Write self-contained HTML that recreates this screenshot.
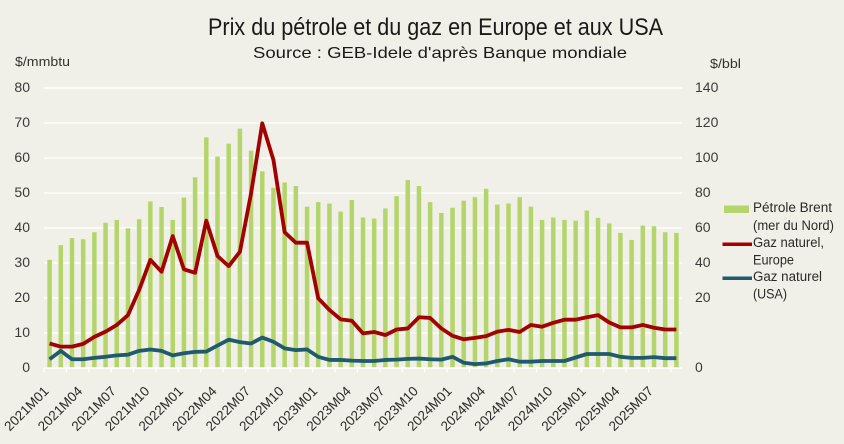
<!DOCTYPE html>
<html>
<head>
<meta charset="utf-8">
<style>
html,body{margin:0;padding:0;background:#f0f0e9;}
svg{display:block;}
text{font-family:"Liberation Sans",sans-serif;}
</style>
</head>
<body>
<svg width="844" height="444" viewBox="0 0 844 444" xmlns="http://www.w3.org/2000/svg">
<rect x="0" y="0" width="844" height="444" fill="#f0f0e9"/>

<!-- Titles -->
<text x="208" y="35" font-size="24" fill="#1a1a1a" textLength="455" lengthAdjust="spacingAndGlyphs">Prix du pétrole et du gaz en Europe et aux USA</text>
<text x="253" y="58" font-size="16" fill="#1a1a1a" textLength="374" lengthAdjust="spacingAndGlyphs">Source : GEB-Idele d'après Banque mondiale</text>
<text x="15" y="66" font-size="13" fill="#333" textLength="55" lengthAdjust="spacingAndGlyphs">$/mmbtu</text>
<text x="710" y="68" font-size="13" fill="#333" textLength="31" lengthAdjust="spacingAndGlyphs">$/bbl</text>

<!-- Gridlines -->
<g stroke="#ffffff" stroke-width="1.2">
<line x1="44" y1="88" x2="682" y2="88"/>
<line x1="44" y1="123" x2="682" y2="123"/>
<line x1="44" y1="158" x2="682" y2="158"/>
<line x1="44" y1="193" x2="682" y2="193"/>
<line x1="44" y1="228" x2="682" y2="228"/>
<line x1="44" y1="263" x2="682" y2="263"/>
<line x1="44" y1="298" x2="682" y2="298"/>
<line x1="44" y1="333" x2="682" y2="333"/>
</g>

<!-- Left axis labels -->
<g font-size="14" fill="#3a3a3a" text-anchor="end">
<text x="30" y="92">80</text>
<text x="30" y="127">70</text>
<text x="30" y="162">60</text>
<text x="30" y="197">50</text>
<text x="30" y="232">40</text>
<text x="30" y="267">30</text>
<text x="30" y="302">20</text>
<text x="30" y="337">10</text>
<text x="30" y="372">0</text>
</g>
<!-- Right axis labels -->
<g font-size="14" fill="#3a3a3a">
<text x="695" y="92">140</text>
<text x="695" y="127">120</text>
<text x="695" y="162">100</text>
<text x="695" y="197">80</text>
<text x="695" y="232">60</text>
<text x="695" y="267">40</text>
<text x="695" y="302">20</text>
<text x="695" y="372">0</text>
</g>

<!-- Plot data in unit coords -->
<g transform="translate(44,368) scale(11.193,-3.5)">
<g fill="#b4d56b">
<rect x="0.299" y="0" width="0.402" height="30.9"/>
<rect x="1.299" y="0" width="0.402" height="35.1"/>
<rect x="2.299" y="0" width="0.402" height="37.1"/>
<rect x="3.299" y="0" width="0.402" height="36.8"/>
<rect x="4.299" y="0" width="0.402" height="38.8"/>
<rect x="5.299" y="0" width="0.402" height="41.5"/>
<rect x="6.299" y="0" width="0.402" height="42.3"/>
<rect x="7.299" y="0" width="0.402" height="39.9"/>
<rect x="8.299" y="0" width="0.402" height="42.5"/>
<rect x="9.299" y="0" width="0.402" height="47.6"/>
<rect x="10.299" y="0" width="0.402" height="46.0"/>
<rect x="11.299" y="0" width="0.402" height="42.3"/>
<rect x="12.299" y="0" width="0.402" height="48.7"/>
<rect x="13.299" y="0" width="0.402" height="54.5"/>
<rect x="14.299" y="0" width="0.402" height="65.9"/>
<rect x="15.299" y="0" width="0.402" height="60.4"/>
<rect x="16.299" y="0" width="0.402" height="64.1"/>
<rect x="17.299" y="0" width="0.402" height="68.4"/>
<rect x="18.299" y="0" width="0.402" height="62.1"/>
<rect x="19.299" y="0" width="0.402" height="56.2"/>
<rect x="20.299" y="0" width="0.402" height="51.5"/>
<rect x="21.299" y="0" width="0.402" height="53.0"/>
<rect x="22.299" y="0" width="0.402" height="52.0"/>
<rect x="23.299" y="0" width="0.402" height="46.1"/>
<rect x="24.299" y="0" width="0.402" height="47.4"/>
<rect x="25.299" y="0" width="0.402" height="47.0"/>
<rect x="26.299" y="0" width="0.402" height="44.7"/>
<rect x="27.299" y="0" width="0.402" height="48.0"/>
<rect x="28.299" y="0" width="0.402" height="43.0"/>
<rect x="29.299" y="0" width="0.402" height="42.7"/>
<rect x="30.299" y="0" width="0.402" height="45.6"/>
<rect x="31.299" y="0" width="0.402" height="49.1"/>
<rect x="32.299" y="0" width="0.402" height="53.7"/>
<rect x="33.299" y="0" width="0.402" height="52.0"/>
<rect x="34.299" y="0" width="0.402" height="47.4"/>
<rect x="35.299" y="0" width="0.402" height="44.3"/>
<rect x="36.299" y="0" width="0.402" height="45.8"/>
<rect x="37.299" y="0" width="0.402" height="47.8"/>
<rect x="38.299" y="0" width="0.402" height="48.8"/>
<rect x="39.299" y="0" width="0.402" height="51.2"/>
<rect x="40.299" y="0" width="0.402" height="46.7"/>
<rect x="41.299" y="0" width="0.402" height="47.0"/>
<rect x="42.299" y="0" width="0.402" height="48.8"/>
<rect x="43.299" y="0" width="0.402" height="46.1"/>
<rect x="44.299" y="0" width="0.402" height="42.3"/>
<rect x="45.299" y="0" width="0.402" height="43.0"/>
<rect x="46.299" y="0" width="0.402" height="42.3"/>
<rect x="47.299" y="0" width="0.402" height="42.1"/>
<rect x="48.299" y="0" width="0.402" height="45.0"/>
<rect x="49.299" y="0" width="0.402" height="42.9"/>
<rect x="50.299" y="0" width="0.402" height="41.3"/>
<rect x="51.299" y="0" width="0.402" height="38.6"/>
<rect x="52.299" y="0" width="0.402" height="36.6"/>
<rect x="53.299" y="0" width="0.402" height="40.7"/>
<rect x="54.299" y="0" width="0.402" height="40.5"/>
<rect x="55.299" y="0" width="0.402" height="38.8"/>
<rect x="56.299" y="0" width="0.402" height="38.6"/>
</g>

<!-- axis line and ticks -->
<path d="M0,0 H57" stroke="#ffffff" stroke-width="1.5" vector-effect="non-scaling-stroke" fill="none"/>
<path d="M0,0v-1.3 M2,0v-1.3 M4,0v-1.3 M6,0v-1.3 M8,0v-1.3 M10,0v-1.3 M12,0v-1.3 M14,0v-1.3 M16,0v-1.3 M18,0v-1.3 M20,0v-1.3 M22,0v-1.3 M24,0v-1.3 M26,0v-1.3 M28,0v-1.3 M30,0v-1.3 M32,0v-1.3 M34,0v-1.3 M36,0v-1.3 M38,0v-1.3 M40,0v-1.3 M42,0v-1.3 M44,0v-1.3 M46,0v-1.3 M48,0v-1.3 M50,0v-1.3 M52,0v-1.3 M54,0v-1.3 M56,0v-1.3" stroke="#ffffff" stroke-width="1.2" vector-effect="non-scaling-stroke" fill="none"/>

<!-- Europe gas -->
<polyline fill="none" stroke="#a30000" stroke-width="3.8" stroke-linejoin="round" stroke-linecap="butt" vector-effect="non-scaling-stroke"
points="0.5,7.0 1.5,6.1 2.5,6.1 3.5,6.9 4.5,8.9 5.5,10.4 6.5,12.3 7.5,15.1 8.5,22.3 9.5,30.9 10.5,27.5 11.5,37.7 12.5,28.2 13.5,27.2 14.5,42.1 15.5,32.0 16.5,29.1 17.5,33.2 18.5,49.9 19.5,69.9 20.5,59.4 21.5,38.8 22.5,35.8 23.5,35.8 24.5,19.9 25.5,16.6 26.5,13.9 27.5,13.5 28.5,9.9 29.5,10.3 30.5,9.4 31.5,11.0 32.5,11.3 33.5,14.5 34.5,14.3 35.5,11.3 36.5,9.2 37.5,8.2 38.5,8.6 39.5,9.1 40.5,10.4 41.5,10.9 42.5,10.3 43.5,12.3 44.5,11.8 45.5,12.9 46.5,13.8 47.5,13.8 48.5,14.5 49.5,15.1 50.5,13.0 51.5,11.6 52.5,11.6 53.5,12.3 54.5,11.5 55.5,11.0 56.5,11.0"/>

<!-- USA gas -->
<polyline fill="none" stroke="#1f5a6f" stroke-width="3.8" stroke-linejoin="round" stroke-linecap="butt" vector-effect="non-scaling-stroke"
points="0.5,2.5 1.5,4.9 2.5,2.5 3.5,2.5 4.5,2.9 5.5,3.2 6.5,3.6 7.5,3.8 8.5,4.9 9.5,5.3 10.5,4.9 11.5,3.6 12.5,4.2 13.5,4.6 14.5,4.7 15.5,6.4 16.5,8.1 17.5,7.4 18.5,7.0 19.5,8.7 20.5,7.5 21.5,5.6 22.5,5.1 23.5,5.3 24.5,3.2 25.5,2.3 26.5,2.3 27.5,2.1 28.5,2.0 29.5,2.0 30.5,2.3 31.5,2.4 32.5,2.6 33.5,2.7 34.5,2.5 35.5,2.4 36.5,3.2 37.5,1.5 38.5,1.1 39.5,1.3 40.5,2.0 41.5,2.5 42.5,1.8 43.5,1.8 44.5,2.0 45.5,2.0 46.5,2.0 47.5,3.0 48.5,4.0 49.5,4.0 50.5,4.0 51.5,3.2 52.5,2.9 53.5,2.9 54.5,3.1 55.5,2.8 56.5,2.8"/>
</g>

<!-- X axis labels -->
<g font-size="13.5" fill="#2a2a2a" text-anchor="end">
<text transform="translate(49.6,392) rotate(-45)">2021M01</text>
<text transform="translate(83.2,392) rotate(-45)">2021M04</text>
<text transform="translate(116.8,392) rotate(-45)">2021M07</text>
<text transform="translate(150.3,392) rotate(-45)">2021M10</text>
<text transform="translate(183.9,392) rotate(-45)">2022M01</text>
<text transform="translate(217.5,392) rotate(-45)">2022M04</text>
<text transform="translate(251.1,392) rotate(-45)">2022M07</text>
<text transform="translate(284.6,392) rotate(-45)">2022M10</text>
<text transform="translate(318.2,392) rotate(-45)">2023M01</text>
<text transform="translate(351.8,392) rotate(-45)">2023M04</text>
<text transform="translate(385.4,392) rotate(-45)">2023M07</text>
<text transform="translate(418.9,392) rotate(-45)">2023M10</text>
<text transform="translate(452.5,392) rotate(-45)">2024M01</text>
<text transform="translate(486.1,392) rotate(-45)">2024M04</text>
<text transform="translate(519.7,392) rotate(-45)">2024M07</text>
<text transform="translate(553.3,392) rotate(-45)">2024M10</text>
<text transform="translate(586.8,392) rotate(-45)">2025M01</text>
<text transform="translate(620.4,392) rotate(-45)">2025M04</text>
<text transform="translate(654.0,392) rotate(-45)">2025M07</text>
</g>

<!-- Legend -->
<rect x="724" y="205.5" width="25" height="7.5" fill="#b4d56b"/>
<line x1="722.5" y1="244.3" x2="752" y2="244.3" stroke="#a30000" stroke-width="3.5"/>
<line x1="722.5" y1="278.3" x2="752" y2="278.3" stroke="#1f5a6f" stroke-width="3.5"/>
<g font-size="13.5" fill="#2a2a2a">
<text x="753" y="212" textLength="79" lengthAdjust="spacingAndGlyphs">Pétrole Brent</text>
<text x="753" y="230" textLength="81" lengthAdjust="spacingAndGlyphs">(mer du Nord)</text>
<text x="753" y="247" textLength="71" lengthAdjust="spacingAndGlyphs">Gaz naturel,</text>
<text x="753" y="264.5" textLength="41" lengthAdjust="spacingAndGlyphs">Europe</text>
<text x="753" y="281" textLength="69" lengthAdjust="spacingAndGlyphs">Gaz naturel</text>
<text x="753" y="298.5" textLength="34" lengthAdjust="spacingAndGlyphs">(USA)</text>
</g>
</svg>
</body>
</html>
